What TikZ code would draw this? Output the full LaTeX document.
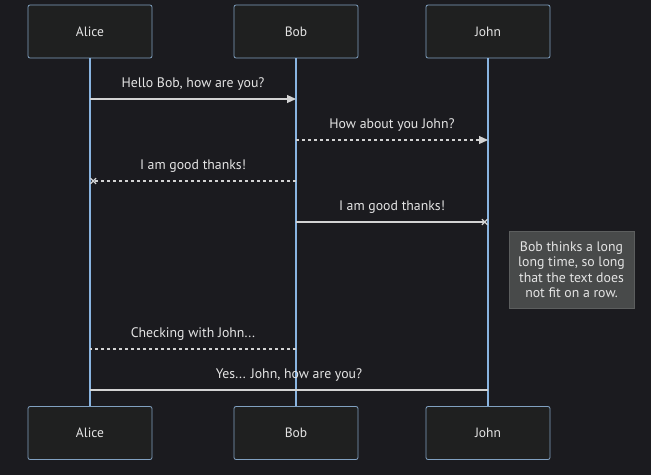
\documentclass[tikz,border=0pt]{standalone}
\usepackage{fontspec}
\setmainfont{PT Sans}
\usetikzlibrary{arrows.meta}
\definecolor{bgcol}{HTML}{1B1B1F}
\definecolor{actorfill}{HTML}{1F2020}
\definecolor{actorline}{HTML}{81A1C1}
\definecolor{lifecol}{HTML}{89B4E0}
\definecolor{msgcol}{HTML}{D3D3D3}
\definecolor{txtcol}{HTML}{E4E4E4}
\definecolor{notefill}{HTML}{484A4A}
\definecolor{noteline}{HTML}{5C5E5E}

\begin{document}
\begin{tikzpicture}[x=1pt,y=-1pt,
  actor/.style={draw=actorline, fill=actorfill, rounded corners=2pt, thick,
    minimum width=124, minimum height=53, text=txtcol, font=\fontsize{13.5}{15}\selectfont},
  life/.style={lifecol, line width=1.2pt},
  msg/.style={msgcol, line width=1.2pt},
  dots/.style={msg, dash pattern=on 3pt off 3pt},
  say/.style={above=5pt, text=txtcol, font=\fontsize{13.8}{15}\selectfont},
  head/.style={-{Triangle[length=9pt,width=8pt]}},
  cross/.style={-{Rays[n=4,length=8pt,width=8pt,line width=1.2pt]}}]
\fill[bgcol] (0,0) rectangle (651,475);
\useasboundingbox (0,0) rectangle (651,475);

\node[actor] (alicetop) at (90,31.5) {Alice};
\node[actor] (bobtop) at (296,31.5) {Bob};
\node[actor] (johntop) at (488,31.5) {John};
\node[actor] (alicebot) at (90,433) {Alice};
\node[actor] (bobbot) at (296,433) {Bob};
\node[actor] (johnbot) at (488,433) {John};

\foreach \who in {alice,bob,john} {
  \draw[life] (\who top) -- (\who bot);
  \foreach \y/\n in {99/1,140/2,181/3,222/4,349/5,390/6}
    \coordinate (\who\n) at (\who top |- 0,\y);
}

\draw[msg,head] (alice1) -- node[say] {Hello Bob, how are you?} (bob1);
\draw[dots,head] (bob2) -- node[say] {How about you John?} (john2);
\draw[dots,cross] (bob3) -- node[say] {I am good thanks!} (alice3);
\draw[msg,cross] (bob4) -- node[say] {I am good thanks!} (john4);

\node[fill=notefill, draw=noteline, thick, minimum width=125, minimum height=77,
  align=center, text=txtcol, font=\fontsize{13.8}{15.5}\selectfont] (think) at (571.5,269.5)
  {Bob thinks a long\\long time, so long\\that the text does\\not fit on a row.};

\draw[dots] (bob5) -- node[say] {Checking with John...} (alice5);
\draw[msg] (alice6) -- node[say] {Yes... John, how are you?} (john6);

\end{tikzpicture}
\end{document}
